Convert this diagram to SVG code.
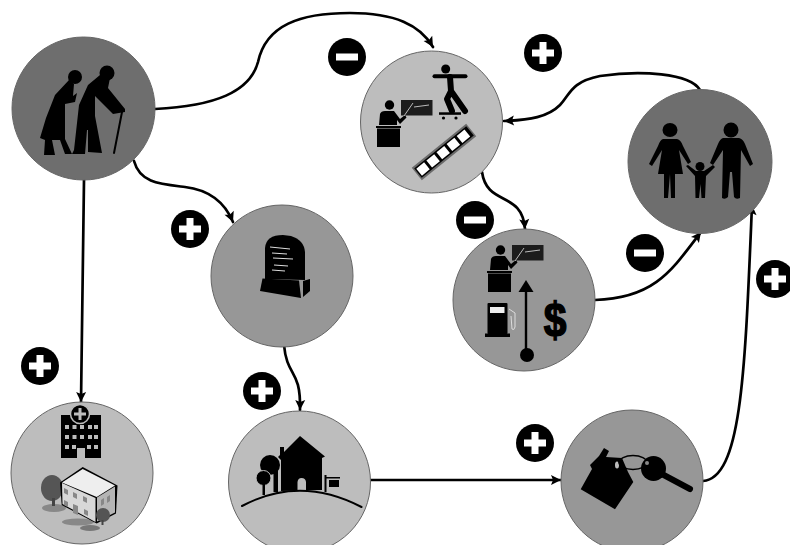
<svg xmlns="http://www.w3.org/2000/svg" width="790" height="545" viewBox="0 0 790 545">
<style>
.n{stroke:#666;stroke-width:1}
.d{fill:#6e6e6e}.m{fill:#979797}.l{fill:#bdbdbd}
.k{fill:#000;stroke:none}
.c{fill:none;stroke:#000;stroke-width:2.7;stroke-linecap:round;marker-end:url(#a)}
.s{fill:none;stroke:#000;stroke-linecap:round;stroke-linejoin:round}
.w{fill:none;stroke:#ddd;stroke-width:1}
</style>
<defs>
<marker id="a" markerUnits="userSpaceOnUse" markerWidth="12" markerHeight="12" refX="11" refY="6" orient="auto"><path d="M1 1L11 6L1 11L3 6Z" fill="#000"/></marker>
<g id="plus"><circle r="19" fill="#000"/><rect x="-11" y="-3.500" width="22" height="7" fill="#fff"/><rect x="-3.500" y="-11" width="7" height="22" fill="#fff"/></g>
<g id="minus"><circle r="19" fill="#000"/><rect x="-11" y="-3.500" width="22" height="7" fill="#fff"/></g>
<g id="teacher">
<circle cx="389.500" cy="105" r="4.700" class="k"/>
<path class="k" d="M379 125L380 114Q381 111 385 111L394 111L400 119L405 115L406.500 117.500L400 124L397 120L397 125Z"/>
<rect x="376" y="126" width="25" height="2" class="k"/>
<rect x="377" y="128.500" width="23" height="18.500" class="k"/>
<rect x="401" y="100" width="31.500" height="15.500" fill="#1c1c1c"/>
<path d="M404 116L413 103M414 107L429 105" stroke="#ccc" stroke-width="0.900" fill="none"/>
</g>
</defs>
<g id="connectors">
<path class="c" d="M155 109C215 106 250 92 258 62C266 25 300 13 350 13C395 13 420 25 433 47"/>
<path class="c" d="M700 90C690 73 640 70 600 76C570 82 570 95 560 105C548 117 530 120 504 121"/>
<path class="c" d="M134 161C140 183 160 184 185 187C210 190 225 203 233 222"/>
<path class="c" d="M84 180L81 402"/>
<path class="c" d="M284 345C287 378 301 368 300 410"/>
<path class="c" d="M482 172C487 207 522 190 525 229"/>
<path class="c" d="M595 300C655 298 672 270 701 232"/>
<path class="c" d="M371 480L561 480"/>
<path class="c" d="M703 481C742 478 745 370 752 205"/>
</g>
<g id="elderly">
<circle class="n d" cx="83.500" cy="108.500" r="71.500"/>
<circle class="k" cx="75" cy="77" r="7"/><circle class="k" cx="107" cy="73" r="7.500"/>
<path class="k" d="M69 80L55 95L46 118L40 138L45 140L44 155L55 155L52 140L60 140L65 154L72 154L65 139L65 104L75 102L77 93L73 96L74 84Z"/>
<path class="k" d="M100 75L88 85L79 105L74 150L72 154L85 154L87 130L88 130L88 152L102 153L95 116L95 96L113 114L125 112L125 109L108 88L110 78Z"/>
<path class="s" stroke-width="2" d="M122 112L114 153"/>
</g>
<g id="teaching">
<circle class="n l" cx="431.500" cy="122" r="71"/>
<use href="#teacher"/>
<circle class="k" cx="445.700" cy="69" r="4.500"/>
<rect class="k" x="432.500" y="74.300" width="35" height="4" rx="2"/>
<path class="s" stroke-width="6" d="M450 77L451 91L465 111M451 91L447 99L452 111"/>
<rect class="k" x="439" y="112.300" width="22" height="2.500"/>
<circle class="k" cx="443.500" cy="118" r="1.600"/><circle class="k" cx="456" cy="118" r="1.600"/>
<g transform="translate(444 152) rotate(-39)">
<rect x="-35" y="-8" width="70" height="16" fill="#6a6a6a"/>
<rect x="-33.500" y="-6" width="67" height="12" fill="#000"/>
<rect x="-32" y="-4.500" width="10" height="9" fill="#fff"/><rect x="-19" y="-4.500" width="10" height="9" fill="#fff"/><rect x="-6" y="-4.500" width="10" height="9" fill="#fff"/><rect x="7" y="-4.500" width="10" height="9" fill="#fff"/><rect x="20" y="-4.500" width="10" height="9" fill="#fff"/>
</g>
</g>
<g id="family">
<circle class="n d" cx="700" cy="161.500" r="72"/>
<ellipse class="k" cx="670" cy="130" rx="7.500" ry="7"/><ellipse class="k" cx="731" cy="130" rx="7.500" ry="7.500"/>
<path class="k" d="M663 139L677 139Q681 140 683 146L691 162L688 164L679 150L683 174L675 174L675 198L671 198L670 174L668 198L664 198L664 174L658 174L662 150L652 166L649 164L658 146Q660 140 663 139Z"/>
<path class="k" d="M723 138L739 138Q743 139 745 144L753 164L750 166L741 150L740 198Q736 200 734 197L732 172L730 172L728 197Q725 200 722 198L723 150L713 165L710 163L718 144Q720 139 723 138Z"/>
<circle class="k" cx="700" cy="166.500" r="4.500"/>
<path class="k" d="M686 166L688 165L696 171L704 171L713 165L715 167L706 176L705 198L701.500 198L700.500 184L699 198L695.500 198L695 176Z"/>
</g>
<g id="tombstone">
<circle class="n m" cx="282" cy="276" r="71"/>
<path class="k" d="M265 279L265 248Q266 235 283 235L291 236Q304 240 305 252L305 280Z"/>
<path class="k" d="M262.500 278.500L299 280.500L301 298L260 291Z"/><path class="k" d="M303 281L310 279L310 291L303 297Z"/>
<path class="w" d="M270 247L290 249M272 253L287 254M273 258L293 259M274 265L288 266M272 270L285 271"/>
</g>
<g id="gasprice">
<circle class="n m" cx="524" cy="300" r="71"/>
<use href="#teacher" transform="translate(111 145)"/>
<rect class="k" x="487.500" y="303" width="20" height="31" rx="1"/>
<rect class="k" x="485" y="333.500" width="25" height="3.500"/>
<rect x="490" y="307" width="14.500" height="6" fill="#eee"/>
<path d="M509 309L515 313L515 327Q514 331 512 329L511 316" fill="none" stroke="#ddd" stroke-width="1"/>
<path class="k" d="M526 280L533.500 292L518.500 292Z"/>
<rect class="k" x="524.800" y="291" width="2.400" height="62"/>
<circle class="k" cx="527" cy="355" r="7"/>
<text transform="translate(555 336) scale(0.85 1)" font-family="'Liberation Sans',sans-serif" font-weight="700" font-size="48" text-anchor="middle" fill="#000" stroke="#000" stroke-width="1.500">$</text>
</g>
<g id="hospital">
<circle class="n l" cx="82" cy="473" r="71"/>
<path class="k" d="M61 415L73 415L73 420L88 420L88 415L101 415L101 458L85 458L85 448L77 448L77 458L61 458Z"/>
<circle cx="80" cy="414" r="9.500" fill="#000" stroke="#bdbdbd" stroke-width="1.500"/>
<path d="M80 408V420M74 414H86" stroke="#bdbdbd" stroke-width="3"/>
<path fill="#bdbdbd" d="M65 425h4v4h-4zM72.500 425h4v4h-4zM80 425h4v4h-4zM88 425h4v4h-4zM94 425h4v4h-4zM65 435h4v4h-4zM72.500 435h4v4h-4zM80 435h4v4h-4zM88 435h4v4h-4zM94 435h4v4h-4zM65 445h4v4h-4zM72 445h4v4h-4zM87 445h4v4h-4zM94 445h4v4h-4z"/>
<ellipse cx="54" cy="508" rx="12" ry="4" fill="#888"/><ellipse cx="78" cy="522" rx="16" ry="3.500" fill="#888"/><ellipse cx="90" cy="528" rx="10" ry="3" fill="#777"/>
<ellipse cx="52" cy="488" rx="11" ry="13" fill="#555"/><rect x="52" y="498" width="3" height="8" fill="#444"/>
<path fill="#000" d="M82.700 467L117.500 485.500L116 513.500L96.700 523.500L61.700 505L60 482.500Z"/>
<path fill="#eee" d="M82.700 469L115 485.500L96.700 497L62 482.500Z"/>
<path fill="#d8d8d8" d="M62 483L95.500 498L95.500 522L62.500 504Z"/>
<path fill="#b5b5b5" d="M97 497.500L115 486.500L115 512.500L97 521.500Z"/>
<path fill="#888" d="M64 488l4 2v5l-4-2zM73 492l4 2v5l-4-2zM83 496l4 2v5l-4-2zM64 500l4 2v5l-4-2zM73 504l5 2v9l-5-2zM84 509l4 2v5l-4-2zM101 500l3-2v6l-3 2zM107 497l3-2v6l-3 2z"/>
<circle cx="103" cy="515" r="7" fill="#555"/><rect x="101.500" y="520" width="2" height="5" fill="#444"/>
</g>
<g id="house">
<circle class="n l" cx="299.500" cy="482" r="71"/>
<path class="k" d="M300 436L325 456.500L322 458L322 490L281 491L281 460L278 457L280 455L280 447L284 447L284 452Z"/>
<path fill="#bdbdbd" d="M297.500 490L297.500 482Q298 478 301.500 478Q305.500 478 306 482L306 490Z"/>
<circle class="k" cx="270" cy="465" r="10"/><rect class="k" x="273.500" y="465" width="4.500" height="27"/>
<circle cx="263.500" cy="478" r="7.500" fill="#000" stroke="#bdbdbd"/><rect class="k" x="262.500" y="480" width="2.500" height="15"/>
<rect class="k" x="324.500" y="475" width="2" height="17"/><rect class="k" x="325" y="477" width="15" height="1.500"/><rect class="k" x="329" y="480" width="10" height="7"/>
<path class="s" stroke-width="2" d="M242 506Q300 475 361.500 507"/>
</g>
<g id="keys">
<circle class="n m" cx="632" cy="481" r="71"/>
<path class="k" d="M580.700 489.300L615 509.300L633.300 482L628 472L622 458L606 457L609 451L604 448L599 456L590 465L592 469Z"/>
<ellipse cx="617" cy="465" rx="2" ry="3.500" fill="#bbb"/>
<ellipse cx="633" cy="462.500" rx="14" ry="7" fill="none" stroke="#000" stroke-width="1.500"/>
<circle class="k" cx="653.500" cy="468.500" r="12.500"/>
<path class="s" stroke-width="6" d="M660 473L690 489"/>
<circle cx="647" cy="463" r="2" fill="#888"/>
</g>
<g id="signs">
<use href="#minus" x="347" y="57"/>
<use href="#plus" x="543" y="53"/>
<use href="#plus" x="190" y="229"/>
<use href="#minus" x="475" y="220"/>
<use href="#minus" x="645" y="253"/>
<use href="#plus" x="775" y="279"/>
<use href="#plus" x="40" y="366"/>
<use href="#plus" x="262" y="391"/>
<use href="#plus" x="535" y="443"/>
</g>
</svg>
